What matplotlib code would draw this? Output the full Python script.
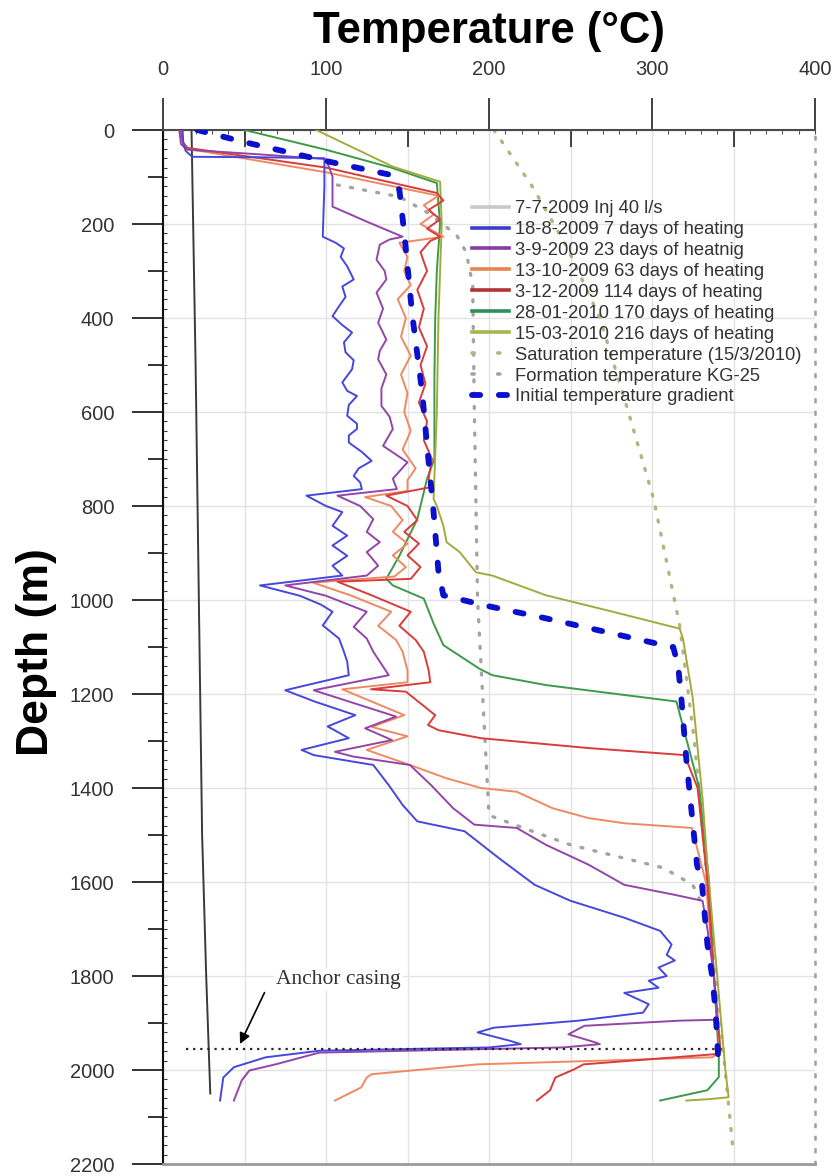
import numpy as np
import matplotlib
matplotlib.use("Agg")
import matplotlib.pyplot as plt
from matplotlib.lines import Line2D
from matplotlib.ticker import MultipleLocator

plt.rcParams['font.family'] = ['Liberation Sans', 'DejaVu Sans']

# ---------------- data (temperature in degC, depth in m) ----------------
inj_T = [17.5, 20, 22, 24, 26.5, 29]
inj_D = [0, 500, 1000, 1500, 1800, 2050]

blue_D = [0, 30, 45, 57, 58, 60, 120, 227, 240, 252, 270, 290, 318, 333, 355, 375, 396, 415, 431, 452, 473,
          490, 509, 537, 555, 566, 585, 608, 625, 636, 650, 665, 685, 704, 720, 736, 750, 764, 778, 800, 813,
          842, 863, 884, 906, 927, 948, 969, 991, 1010, 1025, 1054, 1082, 1110, 1131, 1160, 1192, 1216, 1245,
          1269, 1294, 1319, 1330, 1351, 1394, 1436, 1471, 1492, 1549, 1606, 1640, 1676, 1704, 1733, 1755, 1767,
          1782, 1800, 1810, 1825, 1836, 1860, 1878, 1895, 1910, 1920, 1938, 1945, 1952, 1959, 1973, 1994, 2016, 2065]
blue_T = [12, 12.5, 14, 18, 60, 99, 99, 98, 106, 111, 109, 113, 117, 110, 112, 108, 104, 110, 116, 111, 112,
          117, 116, 110, 113, 119, 114, 113, 119, 119, 114, 114, 122, 128, 120, 117, 121, 122, 88, 100, 110,
          104, 113, 104, 113, 104, 110, 59.5, 84, 97, 104, 98, 108, 111, 113, 114, 75, 93, 118,
          101, 114, 85, 92.5, 129, 138.5, 147, 156, 185, 206, 228, 250, 283, 305, 312, 309, 314,
          304, 309, 298, 304, 283, 298, 294.5, 255, 203, 193, 213, 219.5, 200, 96, 63, 43.5, 37, 35]

purple_D = [0, 30, 42, 52, 62, 99, 163, 195, 227, 233, 244, 276, 300, 318, 346, 380, 410, 446, 470, 488, 520,
            550, 587, 610, 636, 672, 707, 742, 764, 778, 800, 828, 855, 877, 898, 927, 948, 969, 991, 1025,
            1057, 1082, 1110, 1160, 1192, 1216, 1248, 1273, 1298, 1323, 1333, 1351, 1394, 1443, 1478, 1485,
            1521, 1563, 1606, 1627, 1640, 1700, 1800, 1885, 1893, 1895, 1906, 1924, 1941, 1945, 1952, 1963,
            1988, 2001, 2022, 2065]
purple_T = [10, 11, 15, 60, 100, 104, 104, 125, 147, 139, 133, 131, 136, 137, 131, 135, 132, 137, 133, 132, 137,
            134, 134, 139, 141, 135, 150, 141, 143.5, 107, 121, 129, 125, 133, 125, 132, 125, 75, 100, 125,
            117, 125, 129, 138.5, 92.5, 114, 143, 124, 140.5, 105.5, 116.5, 151.5, 164.5, 178, 191, 217,
            235, 261, 283, 313.5, 331, 334, 338, 340, 340, 317, 258.5, 248.7, 265, 268, 245.6, 96,
            69, 53, 48.3, 43.5]

orange_D = [0, 25, 40, 90, 140, 160, 180, 200, 227, 240, 270, 300, 330, 360, 400, 440, 480, 520, 560, 600, 640,
            680, 720, 745, 768, 781, 800, 830, 855, 880, 905, 930, 950, 963, 990, 1025, 1055, 1085, 1110, 1150,
            1175, 1190, 1216, 1245, 1270, 1290, 1319, 1351, 1379, 1400, 1408, 1443, 1464, 1475, 1485, 1600,
            1800, 1960, 1973, 1988, 2009, 2016, 2037, 2065]
orange_T = [11, 12, 15, 100, 169, 160, 166, 158, 172, 145, 150, 148, 152, 144, 149, 146, 152, 146, 150, 148, 152,
            147, 155, 150, 150, 124, 140, 147, 141, 150, 141, 149, 142, 92, 115, 140, 132, 143, 147, 150,
            150, 110, 128, 148, 128, 150, 125, 151.5, 173.6, 195, 217, 239, 261, 283, 324.5, 333,
            338, 342, 337, 193, 128, 125, 121.6, 105.5]

red_D = [0, 25, 38, 80, 134, 150, 170, 190, 210, 227, 236, 260, 300, 340, 380, 420, 460, 500, 540, 580, 620,
         660, 700, 740, 760, 778, 800, 830, 855, 880, 905, 930, 955, 961, 990, 1025, 1055, 1085, 1110, 1150,
         1175, 1190, 1195, 1245, 1266, 1277, 1294, 1315, 1330, 1400, 1600, 1800, 1960, 1966, 1988, 1999,
         2016, 2043, 2065]
red_T = [11, 12, 15, 100, 168, 172, 163, 170, 162, 170, 164, 158, 162, 156, 160, 157, 162, 158, 161, 157, 162,
         160, 165, 163, 164, 137, 150, 156, 148, 157, 150, 158, 152, 107, 128, 152, 145, 155, 160, 163,
         164, 127.6, 149, 167, 162.6, 169, 195, 261, 320, 328, 334, 338, 342, 340, 258, 252,
         240.7, 237.5, 229.4]

green_D = [0, 42, 80, 113, 200, 300, 400, 530, 700, 742, 828, 906, 955, 969, 997, 1050, 1096, 1146, 1160, 1181,
           1199, 1216, 1400, 1600, 1800, 1973, 2015, 2043, 2065]
green_T = [50, 100, 140, 168, 170, 168, 167, 166.5, 166.5, 162, 156, 145, 137, 141, 160, 166, 172, 194, 202, 235,
           276, 315, 329, 335, 338, 341, 341, 334, 305]

olive_D = [0, 78, 110, 200, 400, 600, 785, 800, 842, 877, 898, 941, 948, 990, 1025, 1061, 1082, 1209, 1422,
           1563, 1800, 2000, 2058, 2062, 2065]
olive_T = [94, 141, 170, 171, 169, 168, 166, 168, 172, 174, 182, 192, 202, 235, 276, 317, 319, 325, 331,
           334, 340, 345, 347, 335, 321]

sat_D = [0, 117, 250, 400, 594, 785, 1054, 1300, 1600, 1900, 2180]
sat_T = [203, 226, 248, 268, 285, 301, 317, 326, 334, 342, 350]

form_D = [117, 142, 175, 223, 260, 330, 594, 1000, 1458, 1490, 1521, 1570, 1606, 1650]
form_T = [107, 145, 162, 180, 186, 190, 191, 193, 200, 225, 250, 307, 325, 331]

init_D = [0, 25, 66, 95, 127, 219, 396, 558, 672, 813, 940, 990, 1012, 1036, 1065, 1096, 1100, 1139, 1209,
          1337, 1458, 1563, 1606, 1733, 1803, 1874, 1937, 1999]
init_T = [21, 49, 100, 139, 145, 148, 153, 159, 162, 166, 169, 172, 198, 231, 268, 307, 313, 316, 318,
          321, 324.5, 327.6, 330.7, 334, 337, 339, 340, 341]

anchor_depth = 1956
anchor_T = [14, 343.5]

labels = ["7-7-2009 Inj 40 l/s", "18-8-2009 7 days of heating", "3-9-2009 23 days of heatnig",
          "13-10-2009 63 days of heating", "3-12-2009 114 days of heating", "28-01-2010 170 days of heating",
          "15-03-2010 216 days of heating", "Saturation temperature (15/3/2010)",
          "Formation temperature KG-25", "Initial temperature gradient"]

x_ticks = [0, 100, 200, 300, 400]
y_ticks = list(range(0, 2201, 200))

# ---------------- styling ----------------
c_blue = '#4747dc'
c_purple = '#9445a8'
c_orange = '#ee8a62'
c_red = '#d83c3c'
c_green = '#3c9a4a'
c_olive = '#a2ab3e'
c_sat = '#b4b483'
c_form = '#a3a3a3'
c_init = '#0a10cc'

W, H = 833, 1176
fig = plt.figure(figsize=(W / 100, H / 100), dpi=100)
L, R, T, B = 163, 815, 130, 1164
ax = fig.add_axes([L / W, 1 - B / H, (R - L) / W, (B - T) / H])

ax.set_xlim(0, 400)
ax.set_ylim(2200, 0)

# grid
ax.set_xticks(x_ticks)
ax.xaxis.set_minor_locator(MultipleLocator(50))
ax.set_yticks(y_ticks)
ax.yaxis.set_minor_locator(MultipleLocator(100))
ax.grid(True, which='major', axis='y', color='#e2e2e2', lw=1.0, zorder=0)
ax.grid(True, which='both', axis='x', color='#e2e2e2', lw=1.0, zorder=0)
ax.set_axisbelow(True)

# dotted reference curves
ax.plot(form_T, form_D, color=c_form, lw=2.4, ls=(0, (0.6, 3.4)), dash_capstyle='round', zorder=2)
ax.plot(sat_T, sat_D, color=c_sat, lw=2.4, ls=(0, (0.6, 3.4)), dash_capstyle='round', zorder=2)

# profiles
lw = 1.4
ax.plot(inj_T, inj_D, color='#3a3a3a', lw=1.4, zorder=3)
ax.plot(green_T, green_D, color=c_green, lw=lw, zorder=3)
ax.plot(olive_T, olive_D, color=c_olive, lw=lw, zorder=3)
ax.plot(orange_T, orange_D, color=c_orange, lw=lw, zorder=3)
ax.plot(red_T, red_D, color=c_red, lw=lw, zorder=3)
ax.plot(purple_T, purple_D, color=c_purple, lw=lw, zorder=3)
ax.plot(blue_T, blue_D, color=c_blue, lw=lw, zorder=3)

# initial gradient
ax.plot(init_T, init_D, color=c_init, lw=4.2, ls=(0, (1.4, 3.2)), dash_capstyle='round', zorder=4)

# anchor casing
ax.plot(anchor_T, [anchor_depth, anchor_depth], color='#222222', lw=1.6, ls=(0, (1, 2.2)), zorder=5)
ax.text(69.3, 1808, "Anchor casing", family=['Liberation Serif', 'DejaVu Serif'], fontsize=15.5,
        color='#333333', ha='left', va='center', zorder=6,
        bbox=dict(facecolor='white', edgecolor='none', pad=1.5))
ax.annotate('', xy=(46.5, 1950), xytext=(63, 1830),
            arrowprops=dict(arrowstyle='-|>', color='black', lw=1.2, mutation_scale=16), zorder=6)

# spines
for s in ['top', 'left', 'bottom', 'right']:
    ax.spines[s].set_linewidth(1.5)
ax.spines['top'].set_color('#4a4a4a')
ax.spines['left'].set_color('#111111')
ax.spines['bottom'].set_color('#9a9a9a')
ax.spines['bottom'].set_linewidth(2.0)
ax.spines['right'].set_color('#a0a0a0')
ax.spines['right'].set_linestyle((0, (1, 4)))
ax.spines['right'].set_linewidth(1.8)

# ticks
ax.xaxis.tick_top()
ax.tick_params(axis='x', which='major', direction='out', length=23, width=1.3, color='#333333',
               pad=14, labelsize=14.5, labelcolor='#333333', top=True, bottom=False)
ax.tick_params(axis='x', which='minor', direction='in', length=12, width=1.3, color='#333333',
               top=True, bottom=False)
ax.tick_params(axis='y', which='major', direction='out', length=22, width=1.3, color='#222222',
               pad=13, labelsize=14.5, labelcolor='#333333')
ax.tick_params(axis='y', which='minor', direction='out', length=11, width=1.3, color='#222222')
ax.set_xticklabels([str(v) for v in x_ticks])
ax.set_yticklabels([str(v) for v in y_ticks])

secx = ax.secondary_xaxis('top')
secx.set_xticks(np.arange(0, 401, 10))
secx.tick_params(direction='in', length=3, width=0.8, color='#555555', labeltop=False)
secx.spines['top'].set_visible(False)

secy = ax.secondary_yaxis('left')
secy.set_yticks(np.arange(0, 2201, 20))
secy.tick_params(direction='in', length=3, width=0.8, color='#333333', labelleft=False)
secy.spines['left'].set_visible(False)

# titles
fig.text(489 / W, 1 - 32 / H, "Temperature (°C)", fontsize=31.5, fontweight='bold',
         ha='center', va='center', color='black')
fig.text(37 / W, 1 - 652 / H, "Depth (m)", fontsize=32, fontweight='bold', rotation=90,
         ha='center', va='center', color='black')

# legend
handles = [
    Line2D([], [], color='#c8c8c8', lw=2.6),
    Line2D([], [], color='#3c3cc8', lw=2.6),
    Line2D([], [], color='#8a3aa6', lw=2.6),
    Line2D([], [], color='#e8844c', lw=2.6),
    Line2D([], [], color='#b03434', lw=2.6),
    Line2D([], [], color='#2f8f55', lw=2.6),
    Line2D([], [], color='#a8b54a', lw=2.6),
    Line2D([], [], color=c_sat, lw=2.6, ls=(0, (0.6, 6.5)), dash_capstyle='round'),
    Line2D([], [], color=c_form, lw=2.6, ls=(0, (0.6, 6.5)), dash_capstyle='round'),
    Line2D([], [], color=c_init, lw=4.2, ls=(0, (1.4, 3.2)), dash_capstyle='round'),
]
leg = fig.legend(handles, labels, loc='upper left', bbox_to_anchor=(472 / W, 1 - 200 / H),
                 frameon=False, fontsize=13.2, handlelength=2.0, handletextpad=0.35,
                 labelspacing=0.215, borderpad=0, borderaxespad=0)
for t in leg.get_texts():
    t.set_color('#333333')

fig.savefig('out.png', dpi=100)
